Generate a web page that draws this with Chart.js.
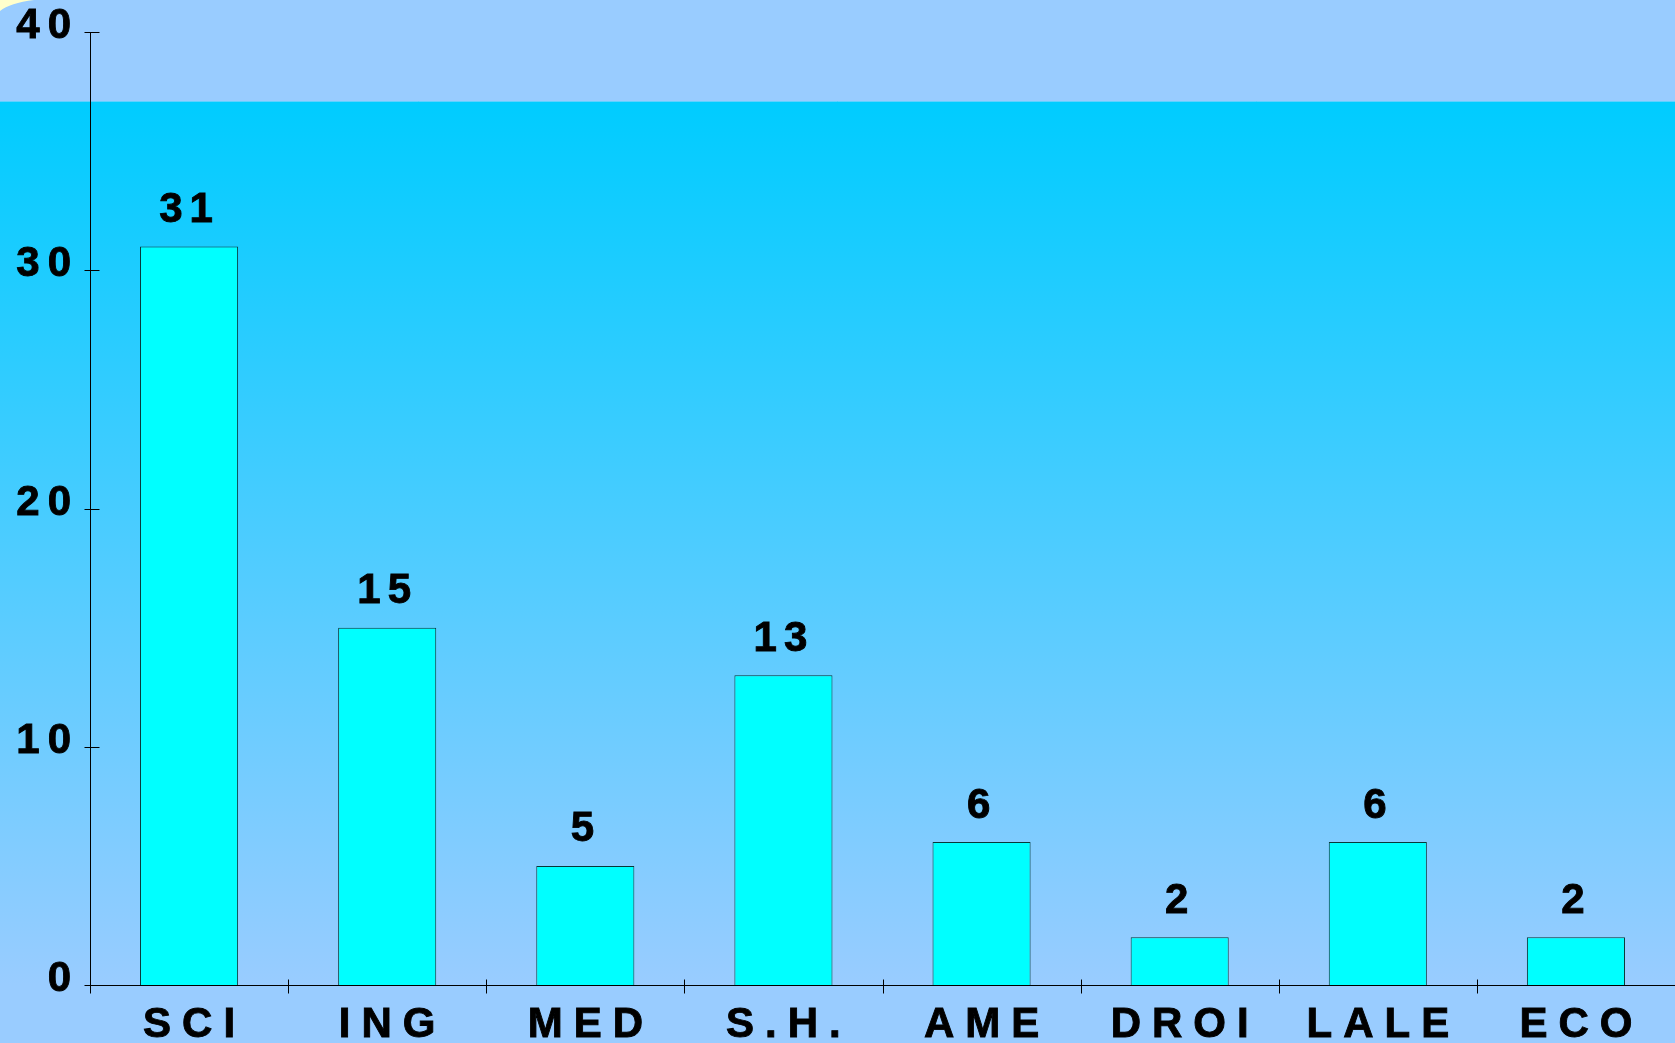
<!DOCTYPE html>
<html>
<head>
<meta charset="utf-8">
<script src="https://cdn.jsdelivr.net/npm/chart.js@4.4.1/dist/chart.umd.min.js"></script>
<style>
html, body { margin: 0; padding: 0; background: #99ccff; overflow: hidden; }
canvas { display: block; }
</style>
</head>
<body>
<canvas id="chart" width="1675" height="1043"></canvas>
<script>
// data
const categories = ["SCI", "ING", "MED", "S.H.", "AME", "DROI", "LALE", "ECO"];
const counts = [31, 15, 5, 13, 6, 2, 6, 2];
const yTicks = [0, 10, 20, 30, 40];

const FONT = "bold 42px 'Liberation Sans', Arial, sans-serif";

// draw text with extra space between letters (slightly stroked to look heavier)
function drawSpaced(ctx, text, x, y, gap, align){
    const chars = [...text];
    const widths = chars.map(c => ctx.measureText(c).width);
    const total = widths.reduce((a, b) => a + b, 0) + gap * (chars.length - 1);
    let start = align === "right" ? x - total : x - total / 2;
    ctx.textAlign = "left";
    chars.forEach((c, i) => {
        ctx.fillText(c, start, y);
        ctx.strokeText(c, start, y);
        start += widths[i] + gap;
    });
}

const decor = {
    id: "decor",
    beforeDraw(chart){
        const ctx = chart.ctx;
        const w = chart.width, h = chart.height;
        ctx.save();
        ctx.fillStyle = "#99ccff";
        ctx.fillRect(0, 0, w, h);
        // pale yellow corner
        ctx.fillStyle = "#ffffcc";
        ctx.beginPath();
        ctx.moveTo(0, 0);
        ctx.lineTo(34, 0);
        ctx.quadraticCurveTo(10, 3, 0, 11);
        ctx.closePath();
        ctx.fill();
        // gradient band
        const g = ctx.createLinearGradient(0, 101, 0, 985);
        g.addColorStop(0, "#00ccff");
        g.addColorStop(1, "#99ccff");
        ctx.fillStyle = g;
        ctx.fillRect(0, 101, w, h - 101);
        ctx.strokeStyle = "rgba(120,210,255,0.8)";
        ctx.lineWidth = 1;
        ctx.beginPath();
        ctx.moveTo(0, 101.5);
        ctx.lineTo(w, 101.5);
        ctx.stroke();
        ctx.restore();
    },
    afterDraw(chart){
        const ctx = chart.ctx;
        const xs = chart.scales.x, ys = chart.scales.y;
        const axisX = Math.round(xs.left) + 0.5;
        const axisY = Math.round(ys.getPixelForValue(0)) + 0.5;
        ctx.save();
        ctx.strokeStyle = "#000";
        ctx.lineWidth = 1;
        ctx.beginPath();
        // y tick marks crossing the axis
        yTicks.forEach(v => {
            const py = Math.round(ys.getPixelForValue(v)) + 0.5;
            ctx.moveTo(axisX - 6, py);
            ctx.lineTo(axisX + 9, py);
        });
        // x tick marks at category boundaries
        const step = (xs.right - xs.left) / categories.length;
        for(let i = 0; i < categories.length; i++){
            const px = Math.round(xs.left + i * step) + 0.5;
            ctx.moveTo(px, i === 0 ? axisY : axisY - 6);
            ctx.lineTo(px, axisY + 8);
        }
        ctx.stroke();

        ctx.fillStyle = "#000";
        ctx.strokeStyle = "#000";
        ctx.lineWidth = 0.9;
        ctx.font = FONT;
        ctx.textBaseline = "alphabetic";
        // y labels
        yTicks.forEach(v => {
            drawSpaced(ctx, String(v), 71, ys.getPixelForValue(v) + 6, 8, "right");
        });
        // x labels
        categories.forEach((c, i) => {
            drawSpaced(ctx, c, xs.getPixelForValue(i), axisY + 51, 11);
        });
        // value labels above bars
        const meta = chart.getDatasetMeta(0);
        meta.data.forEach((bar, i) => {
            drawSpaced(ctx, String(counts[i]), bar.x - 3, bar.y - 24.5, 7);
        });
        ctx.restore();
    }
};

const chart = new Chart(document.getElementById("chart"), {
    type: "bar",
    data: {
        labels: categories,
        datasets: [{
            data: counts,
            backgroundColor: "#00ffff",
            borderColor: "#083838",
            borderWidth: 1,
            categoryPercentage: 1,
            barPercentage: 0.495
        }]
    },
    options: {
        responsive: false,
        animation: false,
        layout: { padding: { top: 32, left: 0, right: 0, bottom: 0 } },
        plugins: {
            legend: { display: false },
            tooltip: { enabled: false }
        },
        scales: {
            x: {
                ticks: { display: false },
                grid: { display: false },
                border: { display: true, color: "#000", width: 1 },
                afterFit(s){ s.height = 58; }
            },
            y: {
                min: 0,
                max: 40,
                ticks: { display: false, stepSize: 10 },
                grid: { display: false },
                border: { display: true, color: "#000", width: 1 },
                afterFit(s){ s.width = 90; }
            }
        }
    },
    plugins: [decor]
});
</script>
</body>
</html>
